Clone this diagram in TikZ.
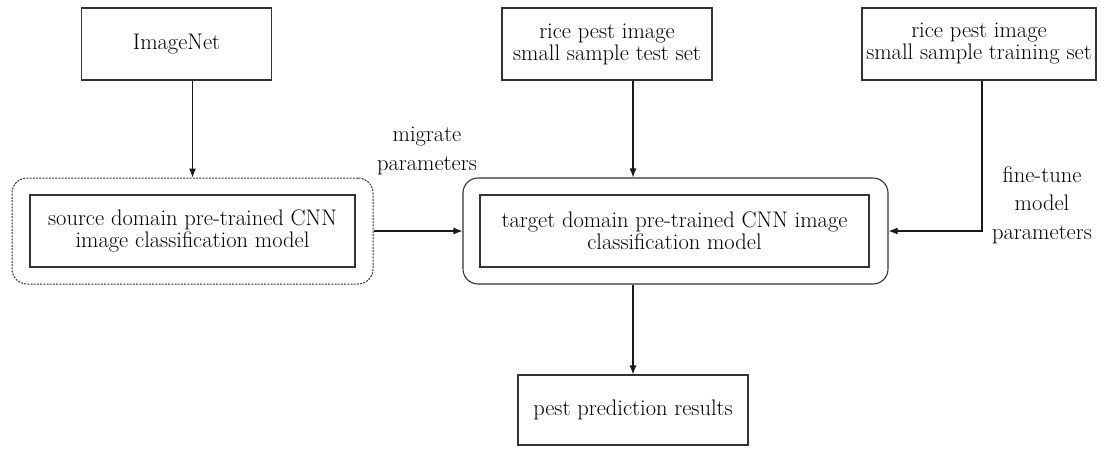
\documentclass[tikz,border=0pt]{standalone}
\usetikzlibrary{arrows.meta}
\begin{document}
\begin{tikzpicture}[x=1pt,y=-1pt,
  txt/.style={font=\fontsize{22.5}{22}\selectfont, align=center, text=black},
  lbl/.style={font=\fontsize{22.5}{28.5}\selectfont, align=center, text=black},
  box/.style={draw=black!80, line width=1.1pt, txt, inner sep=0pt},
  outerbox/.style={draw=black!80, line width=1.1pt, rounded corners=15pt, inner sep=0pt},
  arr/.style={draw=black!90, line width=1.1pt, -{Latex[length=9pt,width=7pt]}}]
\useasboundingbox (0,0) rectangle (1105,453);
\node[box, minimum width=190pt, minimum height=72pt] (imagenet) at (176.5,44) {ImageNet};
\node[box, minimum width=210pt, minimum height=72pt] (test) at (607,44) {rice pest image\\small sample test set};
\node[box, minimum width=234pt, minimum height=72pt] (train) at (979,44) {rice pest image\\small sample training set};
\node[outerbox, dash pattern=on 2pt off 1.2pt, line width=1pt, minimum width=361pt, minimum height=106pt] (srcout) at (192.5,231) {};
\node[box, minimum width=325pt, minimum height=72pt] (srcin) at (192.5,231) {source domain pre-trained CNN\\image classification model};
\node[outerbox, minimum width=425pt, minimum height=106pt] (tgtout) at (675.5,231) {};
\node[box, minimum width=389pt, minimum height=72pt] (tgtin) at (674.5,231) {target domain pre-trained CNN image\\classification model};
\node[box, minimum width=230pt, minimum height=70pt] (pest) at (633,410) {pest prediction results};
\node[lbl] (mig) at (427,151) {migrate\\parameters};
\node[lbl] (fine) at (1042,205) {fine-tune\\model\\parameters};
\coordinate (tgtin1) at (tgtout.north -| pest.north);
\coordinate (tgtbot) at (tgtout.south -| pest.north);
\draw[arr] (srcout.north |- imagenet.south) -- (srcout.north);
\draw[arr] (tgtin1 |- test.south) -- (tgtin1);
\draw[arr] (srcout.east) -- (tgtout.west);
\draw[arr] (train.south -| 982,0) |- (tgtout.east);
\draw[arr] (tgtbot) -- (pest.north);
\end{tikzpicture}
\end{document}
